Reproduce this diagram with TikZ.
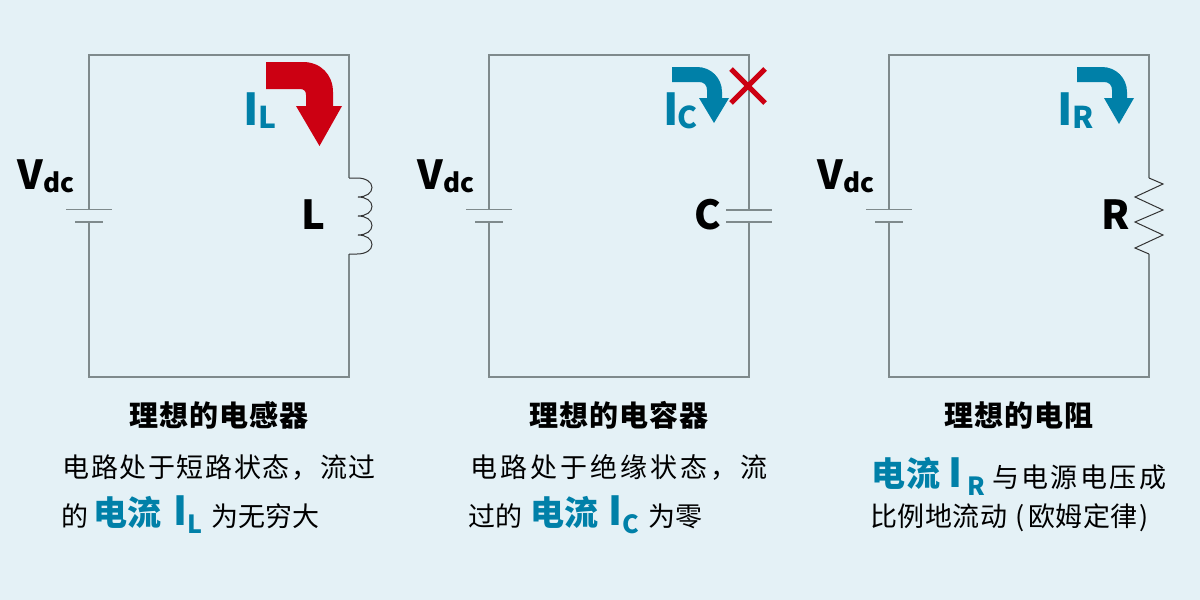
\documentclass[tikz,border=0pt]{standalone}
\usepackage{fontspec}
\setmainfont{Noto Sans CJK SC}
\newfontfamily\cjk{Noto Sans CJK SC}
\newcommand\ls[2]{{\addfontfeature{LetterSpace=#1}#2}}
\definecolor{bgc}{HTML}{E4F1F6}
\definecolor{wirec}{HTML}{7F8A8C}
\definecolor{tealc}{HTML}{0080A8}
\definecolor{redc}{HTML}{CC0012}
\tikzset{
  wire/.style={draw=wirec,line width=1.5pt,line join=miter},
  plate/.style={draw=wirec,line width=1.3pt},
  coil/.style={draw=black!80,line width=1pt},
  txt/.style={inner sep=0pt,outer sep=0pt,anchor=base west,text=black},
  sym/.style={txt,font=\fontsize{40}{40}\selectfont\bfseries},
  symsub/.style={txt,font=\fontsize{26}{26}\selectfont\bfseries},
  ibig/.style={txt,text=tealc,font=\fontsize{44}{44}\selectfont\bfseries},
  isub/.style={txt,text=tealc,font=\fontsize{30}{30}\selectfont\bfseries},
  ttl/.style={txt,font=\fontsize{29}{29}\selectfont\bfseries},
  body/.style={txt,font=\fontsize{27}{27}\selectfont},
  hl/.style={txt,text=tealc,font=\fontsize{34}{34}\selectfont\bfseries},
  hli/.style={txt,text=tealc,font=\fontsize{40}{40}\selectfont\bfseries},
  hls/.style={txt,text=tealc,font=\fontsize{25}{25}\selectfont\bfseries},
}
\begin{document}
\begin{tikzpicture}[x=1pt,y=-1pt]
\fill[bgc] (0,0) rectangle (1200,600);
\useasboundingbox (0,0) rectangle (1200,600);
% circuits
\foreach \n/\l/\r/\ct/\cb in {a/89/349/178/254,b/489/749/210/222,c/889/1149/178/254}{
  \coordinate (\n tl) at (\l,55);
  \coordinate (\n tr) at (\r,55);
  \coordinate (\n bl) at (\l,377);
  \coordinate (\n br) at (\r,377);
  \coordinate (\n pt) at (\l,209.5);
  \coordinate (\n pb) at (\l,222);
  \coordinate (\n ct) at (\r,\ct);
  \coordinate (\n cb) at (\r,\cb);
  \draw[wire] (\n pt) -- (\n tl) -- (\n tr) -- (\n ct);
  \draw[wire] (\n cb) -- (\n br) -- (\n bl) -- (\n pb);
  \draw[plate] ([xshift=-23pt]\n pt) -- ([xshift=23pt]\n pt);
  \draw[plate] ([xshift=-14pt]\n pb) -- ([xshift=14pt]\n pb);
}
% inductor
\draw[coil] (act) -- (357,178)
  .. controls (366,178) and (372,182) .. (372,187.5) .. controls (372,193) and (366,197) .. (358,197)
  .. controls (366,197) and (372,201) .. (372,206.5) .. controls (372,212) and (366,216) .. (358,216)
  .. controls (366,216) and (372,220) .. (372,225.5) .. controls (372,231) and (366,235) .. (358,235)
  .. controls (366,235) and (372,239) .. (372,244.5) .. controls (372,250) and (366,254) .. (357,254) -- (acb);
% capacitor
\draw[plate] ([xshift=-23pt]bct) -- ([xshift=23pt]bct);
\draw[plate] ([xshift=-23pt]bcb) -- ([xshift=23pt]bcb);
% resistor
\draw[coil,line join=miter] (cct) -- (1163,184) -- (1135,197) -- (1163,210) -- (1135,222) -- (1163,235) -- (1135,248) -- (ccb);
% current arrows
\fill[redc] (266,62) -- (303,62) .. controls (321,62) and (333,75) .. (333,92) -- (333,106) -- (342,106) -- (319.5,146) -- (296,106) -- (306,106) -- (306,95) .. controls (306,91) and (304,89) .. (300,89) -- (266,89) -- cycle;
\fill[tealc] (672,67) -- (697,67) .. controls (711,67) and (722,78) .. (722,92) -- (722,98) -- (729,98) -- (714,123) -- (699,98) -- (707,98) -- (707,90) .. controls (707,85) and (704,82) .. (699,82) -- (672,82) -- cycle;
\fill[tealc] (1077,67) -- (1102,67) .. controls (1116,67) and (1127,78) .. (1127,92) -- (1127,98) -- (1134,98) -- (1119,124) -- (1104,98) -- (1112,98) -- (1112,90) .. controls (1112,85) and (1109,82) .. (1104,82) -- (1077,82) -- cycle;
% cross
\draw[redc,line width=5pt] (731,69) -- (765,103) (765,69) -- (731,103);
% symbols
\foreach \n/\x in {a/17,b/417,c/817}{
  \node[sym] (v\n) at (\x,189) {V};
  \node[symsub] (d\n) at (\x+26,192) {dc};
}
\node[sym] (lL) at (301,229) {L};
\node[sym] (lC) at (694,229) {C};
\node[sym] (lR) at (1101,229) {R};
\node[ibig] (iL) at (243,125) {I};
\node[isub] (iLs) at (258,128) {L};
\node[ibig] (iC) at (663,125) {I};
\node[isub] (iCs) at (677.5,128) {C};
\node[ibig] (iR) at (1057,125) {I};
\node[isub] (iRs) at (1072,128) {R};
% panel 1
\node[ttl] (t1) at (129.5,426) {\ls{3.5}{理想的电感器}};
\node[body] (b11) at (62.5,477) {\ls{6}{电路处于短路状态，流过}};
\node[body] (b12) at (61.5,526.5) {的};
\node[hl] (h1) at (93.5,525) {电流};
\node[hli] (i1) at (173,525) {I};
\node[hls] (s1) at (187,533) {L};
\node[body] (b13) at (211,526.5) {\ls{1}{为无穷大}};
% panel 2
\node[ttl] (t2) at (529.5,426) {\ls{3.5}{理想的电容器}};
\node[body] (b21) at (470.5,477) {\ls{11}{电路处于绝缘状态，流}};
\node[body] (b22) at (468.5,526.5) {过的};
\node[hl] (h2) at (530.5,525) {电流};
\node[hli] (i2) at (608,525) {I};
\node[hls] (s2) at (622,533) {C};
\node[body] (b23) at (648,526.5) {为零};
% panel 3
\node[ttl] (t3) at (944.5,426) {\ls{3.5}{理想的电阻}};
\node[hl] (h3) at (871.5,486) {\ls{4}{电流}};
\node[hli] (i3) at (948,487) {I};
\node[hls] (s3) at (967,495) {R};
\node[body] (b31) at (992,487) {\ls{9}{与电源电压成}};
\node[body] (b32) at (870.5,526.5) {\ls{1.5}{比例地流动}};
\node[body] (b33) at (1015,526.5) {(\kern4pt\ls{2}{欧姆定律}\kern2pt)};
\end{tikzpicture}
\end{document}
